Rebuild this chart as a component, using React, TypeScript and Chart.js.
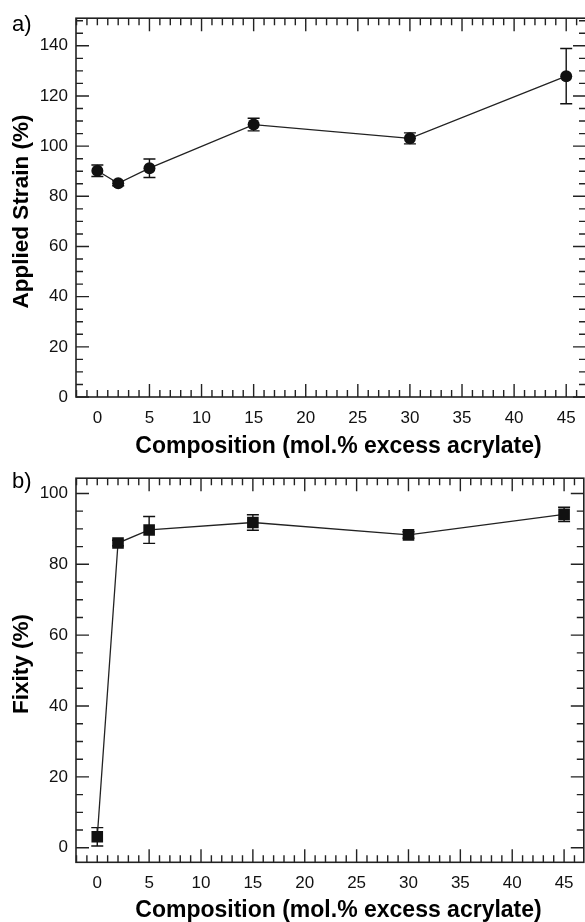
import React, { useEffect, useRef } from "react";
import { Chart, registerables } from "chart.js";

Chart.register(...registerables);

// ---- data ----
const composition = [0, 2, 5, 15, 30, 45];
const strain = [90.2, 85.2, 91.2, 108.6, 103.1, 127.9];
const strainErr = [2.3, 1.0, 3.7, 2.5, 2.2, 11.0];
const fixity = [3.1, 86.0, 89.7, 91.8, 88.3, 94.1];
const fixityErr = [2.6, 0.8, 3.8, 2.2, 0.9, 2.0];

const xTickLabels = [0, 5, 10, 15, 20, 25, 30, 35, 40, 45];
const xMajorTicks = [5, 10, 15, 20, 25, 30, 35, 40, 45];
const strainTickLabels = [0, 20, 40, 60, 80, 100, 120, 140];
const fixityTickLabels = [0, 20, 40, 60, 80, 100];
const xTitle = "Composition (mol.% excess acrylate)";

const FONT = "'Liberation Sans', Arial, sans-serif";
const INK = "#111";

const framePlugin = {
  id: "frameTicks",
  afterDraw(chart: any, _args: any, opts: any) {
    const { ctx, chartArea } = chart;
    const { left, right, top, bottom } = chartArea;
    const x = chart.scales.x;
    const y = chart.scales.y;
    ctx.save();
    ctx.strokeStyle = "#222";
    ctx.lineWidth = 1.6;
    ctx.strokeRect(left, top, right - left, bottom - top);
    ctx.lineWidth = 1.4;
    ctx.beginPath();
    for (let v = Math.ceil(x.min); v <= x.max; v += 1) {
      const px = x.getPixelForValue(v);
      const len = opts.xMajor.includes(v) ? 13 : 7;
      ctx.moveTo(px, bottom);
      ctx.lineTo(px, bottom - len);
      ctx.moveTo(px, top);
      ctx.lineTo(px, top + len);
    }
    const yStart = Math.ceil(y.min / opts.yMinorStep) * opts.yMinorStep;
    for (let v = yStart; v <= y.max; v += opts.yMinorStep) {
      const py = y.getPixelForValue(v);
      const len = opts.yMajor.includes(v) ? 13 : 7;
      ctx.moveTo(left, py);
      ctx.lineTo(left + len, py);
      ctx.moveTo(right, py);
      ctx.lineTo(right - len, py);
    }
    ctx.stroke();

    // x-axis title
    ctx.fillStyle = "#000";
    ctx.font = `bold 23px ${FONT}`;
    ctx.textAlign = "center";
    ctx.textBaseline = "middle";
    ctx.fillText(opts.xTitle, opts.xTitleCenterX, opts.xTitleY);

    // rotated y-axis title
    ctx.font = `bold ${opts.yTitleSize}px ${FONT}`;
    ctx.textBaseline = "alphabetic";
    ctx.translate(opts.yTitleX, opts.yTitleCenter);
    ctx.rotate(-Math.PI / 2);
    ctx.fillText(opts.yTitle, 0, 0);
    ctx.restore();
  },
};

const errorBarPlugin = {
  id: "errorBars",
  beforeDatasetsDraw(chart: any, _args: any, opts: any) {
    const { ctx } = chart;
    const x = chart.scales.x;
    const y = chart.scales.y;
    const ds = chart.data.datasets[0];
    ctx.save();
    ctx.strokeStyle = INK;
    ctx.lineWidth = 1.4;
    ds.data.forEach((p: any, i: number) => {
      const e = opts.errors[i];
      const px = x.getPixelForValue(p.x);
      const y1 = y.getPixelForValue(p.y + e);
      const y2 = y.getPixelForValue(p.y - e);
      ctx.beginPath();
      ctx.moveTo(px, y1);
      ctx.lineTo(px, y2);
      ctx.moveTo(px - 6, y1);
      ctx.lineTo(px + 6, y1);
      ctx.moveTo(px - 6, y2);
      ctx.lineTo(px + 6, y2);
      ctx.stroke();
    });
    ctx.restore();
  },
};

type PanelProps = {
  values: number[];
  errors: number[];
  yTitle: string;
  yTitleCenter: number;
  xTitleY: number;
  yTicks: number[];
  yMin: number;
  yMax: number;
  pointStyle: string;
  radius: number;
  top: number;
  height: number;
  plotTopPad: number;
  plotBottom: number;
  xTickPad: number;
  label: string;
  labelTop: number;
};

function Panel(p: PanelProps) {
  const ref = useRef<HTMLCanvasElement | null>(null);
  useEffect(() => {
    const canvas = ref.current!;
    const chart = new Chart(canvas, {
      type: "scatter",
      data: {
        datasets: [
          {
            data: composition.map((c, i) => ({ x: c, y: p.values[i] })),
            showLine: true,
            borderColor: "#222",
            borderWidth: 1.3,
            backgroundColor: INK,
            pointBackgroundColor: INK,
            pointBorderColor: INK,
            pointBorderWidth: 0,
            pointStyle: p.pointStyle as any,
            pointRadius: p.radius,
            tension: 0,
          },
        ],
      },
      options: {
        animation: false,
        responsive: false,
        devicePixelRatio: 1,
        layout: { padding: { top: p.plotTopPad, right: 4, left: 0, bottom: 0 } },
        plugins: {
          legend: { display: false },
          tooltip: { enabled: false },
          frameTicks: {
            xMajor: xMajorTicks,
            yMajor: p.yTicks,
            yMinorStep: 5,
            yTitle: p.yTitle,
            yTitleCenter: p.yTitleCenter,
            yTitleX: 27.5,
            yTitleSize: 22.5,
            xTitle: xTitle,
            xTitleCenterX: 338.5,
            xTitleY: p.xTitleY,
          },
          errorBars: { errors: p.errors },
        } as any,
        scales: {
          x: {
            type: "linear",
            min: -2.05,
            max: 46.9,
            afterBuildTicks: (axis: any) => {
              axis.ticks = xTickLabels.map((v) => ({ value: v }));
            },
            afterFit: (scale: any) => {
              scale.height = p.height - p.plotBottom;
            },
            grid: { display: false, drawTicks: false },
            border: { display: false },
            ticks: {
              padding: p.xTickPad,
              color: INK,
              font: { family: FONT, size: 17 },
              maxRotation: 0,
              autoSkip: false,
            },
            title: { display: false },
          },
          y: {
            type: "linear",
            min: p.yMin,
            max: p.yMax,
            afterBuildTicks: (axis: any) => {
              axis.ticks = p.yTicks.map((v) => ({ value: v }));
            },
            afterFit: (scale: any) => {
              scale.width = 76;
            },
            grid: { display: false, drawTicks: false },
            border: { display: false },
            ticks: {
              padding: 8,
              color: INK,
              font: { family: FONT, size: 17 },
              autoSkip: false,
            },
            title: { display: false },
          },
        },
      },
      plugins: [framePlugin, errorBarPlugin],
    });
    return () => chart.destroy();
  }, []);

  return (
    <>
      <canvas
        ref={ref}
        width={592}
        height={p.height}
        style={{ position: "fixed", left: 0, top: p.top, width: 592, height: p.height }}
      />
      <div
        style={{
          position: "fixed",
          left: 12,
          top: p.labelTop,
          fontFamily: FONT,
          fontSize: 22,
          lineHeight: "24px",
          color: "#000",
        }}
      >
        {p.label}
      </div>
    </>
  );
}

export default function App() {
  return (
    <div style={{ position: "fixed", inset: 0, background: "#fff", overflow: "hidden" }}>
      <Panel
        values={strain}
        errors={strainErr}
        yTitle="Applied Strain (%)"
        yTitleCenter={211.5}
        xTitleY={447}
        yTicks={strainTickLabels}
        yMin={0}
        yMax={151}
        pointStyle="circle"
        radius={6}
        top={0}
        height={462}
        plotTopPad={14}
        plotBottom={397}
        xTickPad={11}
        label="a)"
        labelTop={12}
      />
      <Panel
        values={fixity}
        errors={fixityErr}
        yTitle="Fixity (%)"
        yTitleCenter={204}
        xTitleY={451}
        yTicks={fixityTickLabels}
        yMin={-4.1}
        yMax={104.3}
        pointStyle="rect"
        radius={8.2}
        top={460}
        height={466}
        plotTopPad={14.3}
        plotBottom={402.3}
        xTickPad={10.5}
        label="b)"
        labelTop={469}
      />
    </div>
  );
}
